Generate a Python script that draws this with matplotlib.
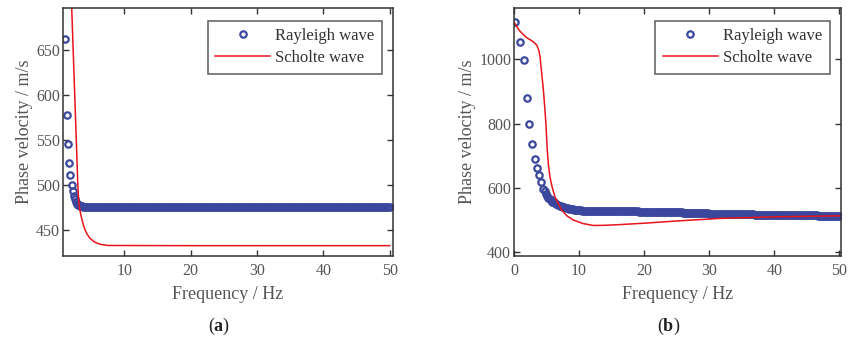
import matplotlib
matplotlib.use("Agg")
import matplotlib.pyplot as plt

plt.rcParams["font.family"] = ["Liberation Serif", "DejaVu Serif"]
plt.rcParams["mathtext.fontset"] = "custom"
plt.rcParams["mathtext.rm"] = "Liberation Serif"
plt.rcParams["mathtext.bf"] = "Liberation Serif:bold"

# frequency grid of the dense (overlapping circles) part, Hz
plateau_freq = [
    6.25, 6.5, 6.75, 7.0, 7.25, 7.5, 7.75, 8.0, 8.25, 8.5, 8.75, 9.0, 9.25, 9.5, 9.75, 10.0,
    10.25, 10.5, 10.75, 11.0, 11.25, 11.5, 11.75, 12.0,
    12.25, 12.5, 12.75, 13.0, 13.25, 13.5, 13.75, 14.0, 14.25, 14.5, 14.75, 15.0, 15.25, 15.5, 15.75, 16.0,
    16.25, 16.5, 16.75, 17.0, 17.25, 17.5, 17.75, 18.0, 18.25, 18.5, 18.75, 19.0,
    19.25, 19.5, 19.75, 20.0, 20.25, 20.5, 20.75, 21.0, 21.25, 21.5, 21.75, 22.0,
    22.25, 22.5, 22.75, 23.0, 23.25, 23.5, 23.75, 24.0, 24.25, 24.5, 24.75, 25.0,
    25.25, 25.5, 25.75, 26.0, 26.25, 26.5, 26.75, 27.0, 27.25, 27.5, 27.75, 28.0,
    28.25, 28.5, 28.75, 29.0, 29.25, 29.5, 29.75, 30.0, 30.25, 30.5, 30.75, 31.0,
    31.25, 31.5, 31.75, 32.0, 32.25, 32.5, 32.75, 33.0, 33.25, 33.5, 33.75, 34.0,
    34.25, 34.5, 34.75, 35.0, 35.25, 35.5, 35.75, 36.0, 36.25, 36.5, 36.75, 37.0,
    37.25, 37.5, 37.75, 38.0, 38.25, 38.5, 38.75, 39.0, 39.25, 39.5, 39.75, 40.0,
    40.25, 40.5, 40.75, 41.0, 41.25, 41.5, 41.75, 42.0, 42.25, 42.5, 42.75, 43.0,
    43.25, 43.5, 43.75, 44.0, 44.25, 44.5, 44.75, 45.0, 45.25, 45.5, 45.75, 46.0,
    46.25, 46.5, 46.75, 47.0, 47.25, 47.5, 47.75, 48.0, 48.25, 48.5, 48.75, 49.0,
    49.25, 49.5, 49.75, 50.0]

# (a) Rayleigh wave
ray_a_freq = [1.06, 1.31, 1.46, 1.66, 1.86, 2.07, 2.2, 2.35, 2.5, 2.65, 2.8, 2.95, 3.1,
              3.25, 3.4, 3.6, 3.8, 4.0, 4.25, 4.5, 4.75, 5.0, 5.25, 5.5, 5.75, 6.0]
ray_a_vel = [663, 578, 546, 525, 511, 500, 493, 488, 484, 481, 479.3, 478.2, 477.5,
             477, 476.6, 476.2, 475.9, 475.7, 475.5, 475.4, 475.3, 475.2, 475.1, 475.1, 475, 475]
ray_a_plateau = [
    475, 475, 475, 475, 475, 475, 475, 475, 475, 475, 475, 475, 475, 475, 475, 475,
    475, 475, 475, 475, 475, 475, 475, 475,
    475, 475, 475, 475, 475, 475, 475, 475, 475, 475, 475, 475, 475, 475, 475, 475,
    475, 475, 475, 475, 475, 475, 475, 475, 475, 475, 475, 475,
    475, 475, 475, 475, 475, 475, 475, 475, 475, 475, 475, 475,
    475, 475, 475, 475, 475, 475, 475, 475, 475, 475, 475, 475,
    475, 475, 475, 475, 475, 475, 475, 475, 475, 475, 475, 475,
    475, 475, 475, 475, 475, 475, 475, 475, 475, 475, 475, 475,
    475, 475, 475, 475, 475, 475, 475, 475, 475, 475, 475, 475,
    475, 475, 475, 475, 475, 475, 475, 475, 475, 475, 475, 475,
    475, 475, 475, 475, 475, 475, 475, 475, 475, 475, 475, 475,
    475, 475, 475, 475, 475, 475, 475, 475, 475, 475, 475, 475,
    475, 475, 475, 475, 475, 475, 475, 475, 475, 475, 475, 475,
    475, 475, 475, 475, 475, 475, 475, 475, 475, 475, 475, 475,
    475, 475, 475, 475]

# (a) Scholte wave
sch_a_freq = [2.0, 2.07, 2.3, 2.54, 2.8, 2.95, 3.07, 3.22, 3.4, 3.57, 3.8, 4.07,
              4.4, 4.83, 5.5, 6.34, 7.5, 20.0, 50.0]
sch_a_vel = [709, 694, 645, 594, 539, 505, 487, 475, 468, 462.5, 456, 450,
             445, 440.5, 436.5, 434, 432.7, 432.5, 432.5]

# (b) Rayleigh wave
ray_b_freq = [0.15, 1.0, 1.56, 2.05, 2.38, 2.84, 3.23, 3.55, 3.82, 4.13, 4.48,
              4.7, 4.9, 5.1, 5.3, 5.5, 5.7, 5.9, 6.1]
ray_b_vel = [1115, 1054, 998, 880, 799, 737, 690, 662, 640, 619, 598,
             589, 581, 575, 570, 565, 561, 557.5, 555]
ray_b_plateau = [
    553, 550, 547.5, 545, 543, 541, 539.5, 538, 536.5, 535, 534, 533, 532, 531.5, 530.5, 530,
    530, 529.5, 529.5, 529, 529, 528.5, 528.5, 528,
    528, 527.5, 527.5, 527.5, 527.5, 527.5, 527, 527, 527, 527, 527, 527, 527, 526.5, 526.5, 526.5,
    526.5, 526.5, 526.5, 526.5, 526.5, 526.5, 526.5, 526.5, 526.5, 526.5, 526.5, 526.5,
    526, 526, 526, 526, 526, 526, 526, 526, 526, 526, 525.5, 525.5,
    525.5, 525.5, 525.5, 525, 525, 525, 524.5, 524.5, 524.5, 524.5, 524, 524,
    524, 523.5, 523.5, 523, 523, 523, 522.5, 522.5, 522.5, 522, 522, 522,
    521.5, 521.5, 521, 521, 521, 520.5, 520.5, 520, 520, 520, 520, 519.5,
    519.5, 519.5, 519.5, 519, 519, 519, 519, 518.5, 518.5, 518.5, 518.5, 518.5,
    518, 518, 518, 518, 518, 518, 517.5, 517.5, 517.5, 517.5, 517.5, 517,
    517, 517, 517, 517, 517, 516.5, 516.5, 516.5, 516.5, 516.5, 516.5, 516,
    516, 516, 516, 516, 515.5, 515.5, 515.5, 515.5, 515.5, 515.5, 515, 515,
    515, 515, 515, 515, 515, 515, 514.5, 514.5, 514.5, 514.5, 514.5, 514.5,
    514.5, 514.5, 514, 514, 514, 514, 514, 514, 514, 514, 514, 514,
    514, 514, 514, 514]

# (b) Scholte wave
sch_b_freq = [0.05, 0.5, 0.92, 1.5, 1.95, 2.5, 2.97, 3.49, 3.8, 4.0, 4.1, 4.3,
              4.5, 4.7, 4.92, 5.12, 5.3, 5.53, 5.9, 6.3, 7.33, 8.2, 9.12, 10.6, 12.2,
              14.0, 16.5, 20.0, 25.0, 31.7, 40.0, 50.0]
sch_b_vel = [1115, 1100, 1088, 1076, 1068, 1061, 1055, 1045, 1030, 1010, 990, 950,
             910, 860, 798, 717, 672, 634, 600, 572, 531, 512, 500, 489, 483,
             483.5, 486, 490, 497, 505, 510, 513]

BLUE = "#3a479c"
RED = "#e8141c"
GRAY = "#555555"


def draw_panel(ax, r_freq, r_vel, s_freq, s_vel, xlim, ylim, yticks, xticks):
    ax.plot(r_freq, r_vel, "o", ms=4.6, mew=1.6, mfc="none", mec=BLUE,
            label="Rayleigh wave")
    ax.plot(s_freq, s_vel, "-", color=RED, lw=1.1, label="Scholte wave")
    ax.set_xlim(xlim)
    ax.set_ylim(ylim)
    ax.set_xticks(xticks)
    ax.set_yticks(yticks)
    ax.tick_params(direction="in", top=True, right=True, length=4, width=1,
                   color="#333333", labelcolor=GRAY, labelsize=11.5)
    ax.tick_params(axis="y", pad=2)
    ax.tick_params(axis="x", pad=5)
    for s in ax.spines.values():
        s.set_color("#333333")
        s.set_linewidth(1.1)
    ax.set_xlabel("Frequency / Hz", fontsize=13, color=GRAY, labelpad=5)
    ax.set_ylabel("Phase velocity / m/s", fontsize=13, color=GRAY, labelpad=2)
    leg = ax.legend(loc="upper right", bbox_to_anchor=(0.966, 0.949), borderaxespad=0,
                    fontsize=12, frameon=True, fancybox=False, handlelength=3.3,
                    handletextpad=0.3, labelspacing=0.35, borderpad=0.45)
    leg.get_frame().set_edgecolor("#333333")
    leg.get_frame().set_linewidth(1.1)
    for t in leg.get_texts():
        t.set_color("#333333")


fig = plt.figure(figsize=(8.58, 3.37), dpi=100)
ax1 = fig.add_axes([0.0731, 0.2404, 0.385, 0.7358])
ax2 = fig.add_axes([0.599, 0.2404, 0.3808, 0.7358])

draw_panel(ax1, ray_a_freq + plateau_freq, ray_a_vel + ray_a_plateau,
           sch_a_freq, sch_a_vel, (0.7, 50.5), (421, 697),
           [450, 500, 550, 600, 650], [10, 20, 30, 40, 50])
draw_panel(ax2, ray_b_freq + plateau_freq, ray_b_vel + ray_b_plateau,
           sch_b_freq, sch_b_vel, (0, 50.2), (388, 1160),
           [400, 600, 800, 1000], [0, 10, 20, 30, 40, 50])

fig.text(0.255, 0.032, r"($\mathbf{a}$)", ha="center", va="center", fontsize=13, color="#222222")
fig.text(0.779, 0.032, r"($\mathbf{b}$)", ha="center", va="center", fontsize=13, color="#222222")

fig.savefig("out.png", dpi=100)
